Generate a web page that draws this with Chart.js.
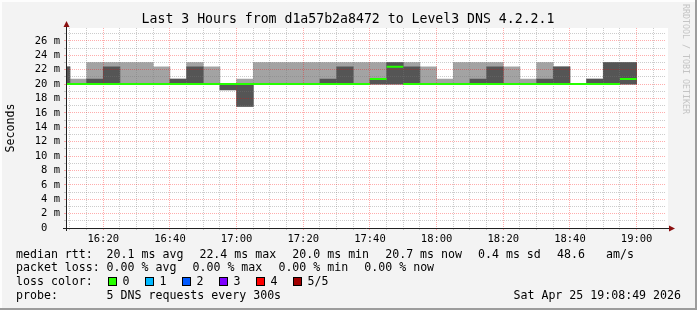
<!DOCTYPE html>
<html>
<head>
<meta charset="utf-8">
<title>Last 3 Hours from d1a57b2a8472 to Level3 DNS 4.2.2.1</title>
<script src="https://cdn.jsdelivr.net/npm/chart.js@4"></script>
<style>
  html, body { margin: 0; padding: 0; background: #f3f3f3; }
  #wrap { width: 697px; height: 310px; }
</style>
</head>
<body>
<div id="wrap"><canvas id="rttChart" width="697" height="310"></canvas></div>
<script>
// 5 minute slots (end time of each step), values in ms
const slotEnds = ['16:10','16:15','16:20','16:25','16:30','16:35','16:40','16:45','16:50','16:55',
  '17:00','17:05','17:10','17:15','17:20','17:25','17:30','17:35','17:40','17:45','17:50','17:55',
  '18:00','18:05','18:10','18:15','18:20','18:25','18:30','18:35','18:40','18:45','18:50','18:55',
  '19:00'];
const minRtt = [20,20,20,20,20,20,20,20,20,20,
  19.2,16.9,20,20,20,20,20,20,20,20,20,20,
  20,20,20,20,20,20,20,20,20,20,20,20,
  20];
const medianRtt = [20,20,20,20,20,20,20,20,20,20,
  20,20,20,20,20,20,20,20,20,20.7,22.4,20,
  20,20,20,20,20,20,20,20,20,20,20,20,
  20.7];
const innerHigh = [22.4,20,20.7,22.4,20,20,20,20.7,22.4,20,
  20,20,20,20,20,20,20.7,22.4,20,20.7,23,22.4,
  20,20,20,20.7,22.4,20,20,20.7,22.4,20,20.7,23,
  23];
const maxRtt = [22.4,20.7,23,23,23,23,22.4,20.7,23,22.4,
  20,20.7,23,23,23,23,23,23,23,23,23,23,
  22.4,20.7,23,23,23,22.4,20.7,23,22.4,20,20.7,23,
  23];

const xLabels = ['16:20','16:40','17:00','17:20','17:40','18:00','18:20','18:40','19:00'];
const yLabels = ['0','2 m','4 m','6 m','8 m','10 m','12 m','14 m','16 m','18 m','20 m','22 m','24 m','26 m'];
const windowStart = '16:08:49';
const windowEnd = '19:08:49';

const rttStats = ['20.1 ms avg', '22.4 ms max', '20.0 ms min', '20.7 ms now', '0.4 ms sd', '48.6', 'am/s'];
const lossStats = ['0.00 % avg', '0.00 % max', '0.00 % min', '0.00 % now'];
const lossNames = ['0', '1', '2', '3', '4', '5/5'];
const lossColors = ['#26ff00', '#00b8ff', '#0059ff', '#7e00ff', '#ff0000', '#a10000'];

const MONO = '"DejaVu Sans Mono", "Liberation Mono", monospace';
const MAJOR = 'rgba(255,0,0,0.32)';
const MINOR = 'rgba(120,120,120,0.38)';

function toMin(t) {
  const p = t.split(':').map(Number);
  return (p[0] - 16) * 60 + p[1] + (p[2] || 0) / 60;
}

const outerSmoke = slotEnds.map((t, i) => ({ x: toMin(t) - 2.5, y: [minRtt[i], maxRtt[i]] }));
const innerSmoke = slotEnds.map((t, i) => ({ x: toMin(t) - 2.5, y: [minRtt[i], innerHigh[i]] }));
const medianPts = [];
slotEnds.forEach((t, i) => {
  medianPts.push({ x: toMin(t) - 5, y: medianRtt[i] });
  medianPts.push({ x: toMin(t), y: medianRtt[i] });
  medianPts.push({ x: toMin(t), y: null });
});

const rrdDecor = {
  id: 'rrdDecor',
  beforeDraw(chart) {
    const { ctx, chartArea: a, width: w, height: h } = chart;
    ctx.save();
    ctx.fillStyle = '#f3f3f3';
    ctx.fillRect(0, 0, w, h);
    ctx.fillStyle = '#fdfdfd';
    ctx.fillRect(0, 0, w, 2);
    ctx.fillRect(0, 0, 2, h);
    ctx.fillStyle = '#9c9c9c';
    ctx.fillRect(0, h - 2, w, 2);
    ctx.fillRect(w - 2, 0, 2, h);
    ctx.fillStyle = '#ffffff';
    ctx.fillRect(a.left, a.top, a.right - a.left + 2, a.bottom - a.top);
    ctx.restore();
  },
  // median line is drawn after the grid (grid sits over the smoke)
  beforeDatasetDraw(chart, args) {
    if (args.index === 0) return false;
  },
  afterDraw(chart) {
    const { ctx, chartArea: a } = chart;
    ctx.save();
    ctx.beginPath();
    ctx.rect(a.left, a.top, a.right - a.left, a.bottom - a.top);
    ctx.clip();
    chart.getDatasetMeta(0).controller.draw();
    ctx.restore();

    ctx.save();
    // axes with arrows
    ctx.strokeStyle = '#202020';
    ctx.lineWidth = 1;
    ctx.beginPath();
    ctx.moveTo(a.left + 0.5, a.bottom + 3);
    ctx.lineTo(a.left + 0.5, a.top - 4);
    ctx.moveTo(a.left - 3, a.bottom + 0.5);
    ctx.lineTo(a.right + 4, a.bottom + 0.5);
    ctx.stroke();
    ctx.fillStyle = '#8b1010';
    ctx.beginPath();
    ctx.moveTo(a.left + 0.5, a.top - 7);
    ctx.lineTo(a.left - 2.5, a.top - 1);
    ctx.lineTo(a.left + 3.5, a.top - 1);
    ctx.fill();
    ctx.beginPath();
    ctx.moveTo(a.right + 9, a.bottom + 0.5);
    ctx.lineTo(a.right + 3, a.bottom - 2.5);
    ctx.lineTo(a.right + 3, a.bottom + 3.5);
    ctx.fill();

    // title
    ctx.fillStyle = '#000';
    ctx.textBaseline = 'middle';
    ctx.textAlign = 'center';
    ctx.font = '13.2px ' + MONO;
    ctx.fillText('Last 3 Hours from d1a57b2a8472 to Level3 DNS 4.2.2.1', 348, 19.5);

    // y axis title
    ctx.font = '11.6px ' + MONO;
    ctx.save();
    ctx.translate(11, 128);
    ctx.rotate(-Math.PI / 2);
    ctx.fillText('Seconds', 0, 0);
    ctx.restore();

    // watermark
    ctx.save();
    ctx.fillStyle = '#c4c4c4';
    ctx.font = '8.3px ' + MONO;
    ctx.textAlign = 'left';
    ctx.translate(685, 4);
    ctx.rotate(Math.PI / 2);
    ctx.fillText('RRDTOOL / TOBI OETIKER', 0, 0);
    ctx.restore();

    // legend block
    ctx.textAlign = 'left';
    ctx.font = '11.6px ' + MONO;
    ctx.fillStyle = '#000';
    ctx.fillText('median rtt:', 16, 254.5);
    const rttX = [106.6, 199.4, 292.3, 385.2, 478, 557, 606];
    rttStats.forEach((s, i) => ctx.fillText(s, rttX[i], 254.5));

    ctx.fillText('packet loss:', 16, 268.3);
    const lossX = [106.6, 192.5, 278.4, 364.3];
    lossStats.forEach((s, i) => ctx.fillText(s, lossX[i], 268.3));

    ctx.fillText('loss color:', 16, 282);
    lossNames.forEach((n, i) => {
      const bx = 108 + i * 37;
      ctx.fillStyle = lossColors[i];
      ctx.fillRect(bx, 277.5, 8, 8);
      ctx.strokeStyle = '#000';
      ctx.strokeRect(bx + 0.5, 277.5, 8, 8);
      ctx.fillStyle = '#000';
      ctx.fillText(n, bx + 14.5, 282);
    });

    ctx.fillText('probe:', 16, 295.8);
    ctx.fillText('5 DNS requests every 300s', 106.6, 295.8);
    ctx.textAlign = 'right';
    ctx.fillText('Sat Apr 25 19:08:49 2026', 681, 295.8);

    ctx.restore();
  }
};

const ctx = document.getElementById('rttChart');

new Chart(ctx, {
  type: 'bar',
  data: {
    datasets: [{
      type: 'line',
      label: 'median rtt',
      data: medianPts,
      borderColor: '#26ff00',
      borderWidth: 2,
      pointRadius: 0,
      spanGaps: false,
      clip: 0,
      order: 1
    }, {
      label: 'inner smoke',
      data: innerSmoke,
      backgroundColor: '#555555',
      grouped: false,
      barPercentage: 1,
      categoryPercentage: 1,
      clip: 0,
      order: 2
    }, {
      label: 'outer smoke',
      data: outerSmoke,
      backgroundColor: '#a3a3a3',
      grouped: false,
      barPercentage: 1,
      categoryPercentage: 1,
      clip: 0,
      order: 3
    }]
  },
  options: {
    responsive: false,
    animation: false,
    events: [],
    layout: { padding: { top: 28, right: 31, bottom: 62, left: 0 } },
    plugins: {
      legend: { display: false },
      title: { display: false },
      tooltip: { enabled: false }
    },
    scales: {
      x: {
        type: 'linear',
        offset: false,
        min: toMin(windowStart),
        max: toMin(windowEnd),
        afterFit: s => { s.height = 20; },
        afterBuildTicks: s => {
          const ticks = [];
          for (let v = Math.ceil(s.min / 5) * 5; v <= s.max; v += 5) ticks.push({ value: v });
          s.ticks = ticks;
        },
        grid: {
          offset: false,
          z: 1,
          color: c => (c.tick && c.tick.value % 20 === 0) ? MAJOR : MINOR,
          tickLength: 2,
          lineWidth: 1
        },
        border: { display: false, dash: [1, 1] },
        ticks: {
          autoSkip: false,
          maxRotation: 0,
          padding: 3,
          color: '#000',
          font: { family: MONO, size: 10.5 },
          callback: v => {
            const lab = xLabels.find(l => Math.abs(toMin(l) - v) < 0.01);
            return lab || '';
          }
        }
      },
      y: {
        min: 0,
        max: 27.8,
        afterFit: s => { s.width = 66; },
        afterBuildTicks: s => {
          const ticks = [];
          for (let v = 0; v <= s.max; v += 1) ticks.push({ value: v });
          s.ticks = ticks;
        },
        grid: {
          z: 1,
          color: c => (c.tick && c.tick.value % 2 === 0) ? MAJOR : MINOR,
          tickLength: 2,
          lineWidth: 1
        },
        border: { display: false, dash: [1, 1] },
        ticks: {
          autoSkip: false,
          padding: 4,
          color: '#000',
          font: { family: MONO, size: 10.5 },
          callback: v => {
            if (v % 2 !== 0) return '';
            const lab = yLabels[v / 2] || '';
            return lab.indexOf(' m') < 0 ? lab + '  ' : lab;
          }
        }
      }
    }
  },
  plugins: [rrdDecor]
});
</script>
</body>
</html>
